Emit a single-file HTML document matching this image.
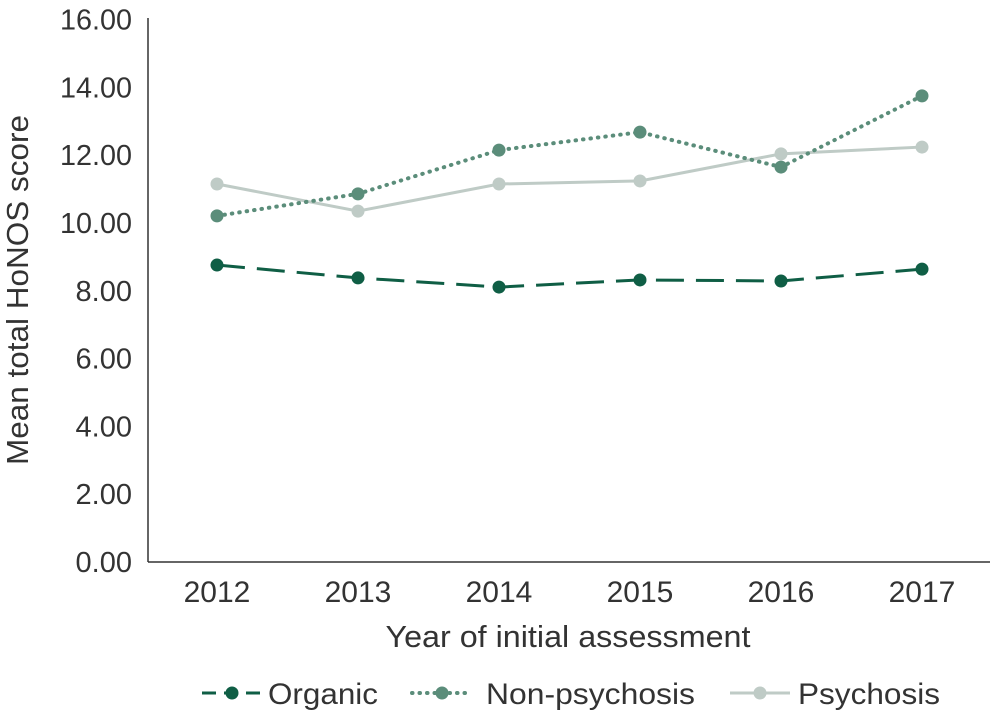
<!DOCTYPE html>
<html><head><meta charset="utf-8"><style>
body{margin:0;background:#fff;}
svg{display:block;font-family:"Liberation Sans",sans-serif;}
</style></head><body>
<svg id="chart" width="994" height="716"></svg>
<script>
const years=["2012","2013","2014","2015","2016","2017"];
const organic=[8.76,8.38,8.11,8.32,8.29,8.64];
const nonPsychosis=[10.21,10.86,12.15,12.68,11.65,13.75];
const psychosis=[11.15,10.35,11.15,11.24,12.04,12.24];
const yTicks=[0,2,4,6,8,10,12,14,16];
const NS="http://www.w3.org/2000/svg";
const svg=document.getElementById('chart');
function mk(t,a,p){const e=document.createElementNS(NS,t);for(const k in a)e.setAttribute(k,a[k]);(p||svg).appendChild(e);return e;}
const y0=562,yPer=33.9,x0=217,xStep=141;
const ys=v=>y0-v*yPer, xs=i=>x0+i*xStep;
let ax=mk('line',{x1:148,y1:18,x2:148,y2:562,stroke:'#333','stroke-width':1.5});

let bx=mk('line',{x1:148,y1:562,x2:990,y2:562,stroke:'#333','stroke-width':1.5});

yTicks.forEach(v=>{const t=mk('text',{x:132,y:ys(v)+10,'text-anchor':'end','font-size':29,fill:'#333',textLength:72,lengthAdjust:'spacingAndGlyphs'});t.textContent=v.toFixed(2);
if(v<10){t.removeAttribute('textLength');t.removeAttribute('lengthAdjust');}
});
years.forEach((y,i)=>{const t=mk('text',{x:xs(i),y:602,'text-anchor':'middle','font-size':30,fill:'#333'});t.textContent=y;
});
let yt=mk('text',{x:0,y:0,transform:'translate(28,290) rotate(-90)','text-anchor':'middle','font-size':31,fill:'#333',textLength:350,lengthAdjust:'spacingAndGlyphs'});yt.textContent='Mean total HoNOS score';

let xt=mk('text',{x:568,y:647,'text-anchor':'middle','font-size':31,fill:'#333',textLength:365,lengthAdjust:'spacingAndGlyphs'});xt.textContent='Year of initial assessment';

const series=[
 {name:'organic',vals:organic,color:'#0f5e45',dash:'28,12',w:3},
 {name:'non-psychosis',vals:nonPsychosis,color:'#5b8d7a',dash:'0.5,7',w:4},
 {name:'psychosis',vals:psychosis,color:'#bfcbc6',dash:'',w:3}];
series.slice().reverse().forEach(s=>{
 const g=mk('g',{});
 const l=mk('polyline',{points:s.vals.map((v,i)=>xs(i)+','+ys(v)).join(' '),fill:'none',stroke:s.color,'stroke-width':s.w,'stroke-dasharray':s.dash,'stroke-linecap':s.name==='non-psychosis'?'round':'butt'},g);
 
 s.vals.forEach((v,i)=>{const c=mk('circle',{cx:xs(i),cy:ys(v),r:6.5,fill:s.color},g);
 });
});
const legend=[{label:'Organic',x:202,tx:268,w:110},{label:'Non-psychosis',x:412,tx:486,w:209},{label:'Psychosis',x:730,tx:798,w:142}];
legend.forEach((L,i)=>{const s=series[i];const g=mk('g',{});
 mk('line',{x1:L.x,y1:693,x2:L.x+60,y2:693,stroke:s.color,'stroke-width':s.w,'stroke-dasharray':i===0?'14,8':s.dash,'stroke-linecap':i===1?'round':'butt'},g);
 mk('circle',{cx:L.x+30,cy:693,r:6.5,fill:s.color},g);
 const t=mk('text',{x:L.tx,y:704,'font-size':30,fill:'#333',textLength:L.w,lengthAdjust:'spacingAndGlyphs'},g);t.textContent=L.label;});
</script>
</body></html>
